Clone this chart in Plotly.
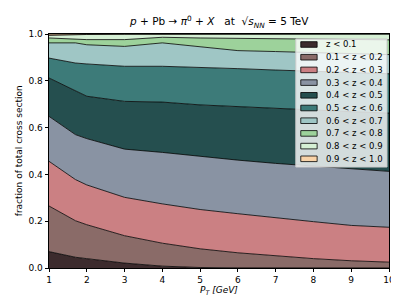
import plotly.graph_objects as go

# transverse momentum grid [GeV]
pt = [1, 1.7, 2, 3, 4, 5, 6, 7, 8, 9, 10]

labels = ["z < 0.1", "0.1 < z < 0.2", "0.2 < z < 0.3", "0.3 < z < 0.4", "0.4 < z < 0.5",
          "0.5 < z < 0.6", "0.6 < z < 0.7", "0.7 < z < 0.8", "0.8 < z < 0.9", "0.9 < z < 1.0"]

z00_01 = [0.070, 0.046, 0.040, 0.021, 0.008, 0.002, 0.0005, 0.0002, 0.0001, 0.0001, 0.0001]
z01_02 = [0.195, 0.156, 0.145, 0.117, 0.098, 0.080, 0.0645, 0.0508, 0.0399, 0.0309, 0.0249]
z02_03 = [0.191, 0.176, 0.170, 0.164, 0.168, 0.168, 0.167, 0.163, 0.158, 0.151, 0.149]
z03_04 = [0.192, 0.192, 0.198, 0.206, 0.220, 0.227, 0.229, 0.233, 0.237, 0.241, 0.239]
z04_05 = [0.164, 0.185, 0.181, 0.204, 0.215, 0.220, 0.228, 0.234, 0.239, 0.245, 0.249]
z05_06 = [0.085, 0.121, 0.138, 0.150, 0.153, 0.161, 0.163, 0.165, 0.166, 0.167, 0.168]
z06_07 = [0.065, 0.086, 0.082, 0.085, 0.100, 0.088, 0.077, 0.079, 0.081, 0.081, 0.082]
z07_08 = [0.021, 0.018, 0.022, 0.029, 0.024, 0.037, 0.052, 0.055, 0.058, 0.061, 0.063]
z08_09 = [0.011, 0.017, 0.022, 0.023, 0.0135, 0.0167, 0.0188, 0.0199, 0.0209, 0.0229, 0.0249]
z09_10 = [0.006, 0.003, 0.002, 0.001, 0.0005, 0.0003, 0.0002, 0.0001, 0.0001, 0.0001, 0.0001]

series = [z00_01, z01_02, z02_03, z03_04, z04_05, z05_06, z06_07, z07_08, z08_09, z09_10]

colors = ["#3c2b2d", "#8a6b68", "#cb8083", "#8993a3", "#254f4f",
          "#3d7b79", "#9fc6c5", "#9dd29b", "#d6f0d5", "#f8d3a8"]

xticks = [1, 2, 3, 4, 5, 6, 7, 8, 9, 10]
yticks = [0.0, 0.2, 0.4, 0.6, 0.8, 1.0]
yticklabels = ["0.0", "0.2", "0.4", "0.6", "0.8", "1.0"]

FONT = "DejaVu Sans"
W, H = 399, 299
L, R, T, B = 41, 15, 26, 39
PW, PH = W - L - R, H - T - B

fig = go.Figure()
for name, vals, col in zip(labels, series, colors):
    fig.add_trace(go.Scatter(x=pt, y=vals, name=name, stackgroup="one", mode="lines",
                             line=dict(color="black", width=0.8), fillcolor=col,
                             showlegend=False, hoverinfo="skip"))

# manual legend (matplotlib-like compact layout)
def px(xp):
    return (xp - L) / PW

def py(yp):
    return (T + PH - yp) / PH

shapes = []
annotations = []
lx0, lx1, ly0, ly1 = 290, 382, 31, 159
shapes.append(dict(type="rect", xref="paper", yref="paper", x0=px(lx0), x1=px(lx1),
                   y0=py(ly1), y1=py(ly0), fillcolor="rgba(255,255,255,0.8)",
                   line=dict(color="#cccccc", width=1), layer="above"))
step = 12.7
for i, (name, col) in enumerate(zip(labels, colors)):
    yc = 36.5 + i * step
    shapes.append(dict(type="rect", xref="paper", yref="paper", x0=px(295), x1=px(311.5),
                       y0=py(yc + 2.8), y1=py(yc - 2.8), fillcolor=col,
                       line=dict(color="black", width=0.8), layer="above"))
    annotations.append(dict(x=px(318), y=py(yc), xref="paper", yref="paper", text=name,
                            showarrow=False, xanchor="left", yanchor="middle",
                            font=dict(family=FONT, size=8.5, color="black")))

annotations.append(dict(x=0.5, y=py(14), xref="paper", yref="paper",
                        text="<i>p</i> + Pb → <i>π</i><sup>0</sup> + <i>X</i>   at  √<i>s</i><sub><i>NN</i></sub> = 5 TeV",
                        showarrow=False, xanchor="center", yanchor="middle",
                        font=dict(family=FONT, size=10.5, color="black")))
annotations.append(dict(x=0.5, y=py(282), xref="paper", yref="paper",
                        text="<i>P<sub>T</sub> [GeV]</i>",
                        showarrow=False, xanchor="center", yanchor="middle",
                        font=dict(family=FONT, size=9, color="black")))
annotations.append(dict(x=px(11), y=0.5, xref="paper", yref="paper",
                        text="fraction of total cross section", textangle=-90,
                        showarrow=False, xanchor="center", yanchor="middle",
                        font=dict(family=FONT, size=9, color="black")))

fig.update_layout(
    width=W, height=H,
    margin=dict(l=L, r=R, t=T, b=B, pad=0),
    paper_bgcolor="white", plot_bgcolor="white",
    font=dict(family=FONT, size=9, color="black"),
    showlegend=False,
    shapes=shapes, annotations=annotations,
    xaxis=dict(range=[1, 10], tickvals=xticks, ticks="outside", ticklen=3.5, tickwidth=0.8,
               tickcolor="black", showline=True, linecolor="black", linewidth=0.8,
               mirror=True, showgrid=False, zeroline=False,
               tickfont=dict(family=FONT, size=9, color="black")),
    yaxis=dict(range=[0, 1], tickvals=yticks, ticktext=yticklabels, ticks="outside",
               ticklen=3.5, tickwidth=0.8, tickcolor="black", showline=True,
               linecolor="black", linewidth=0.8, mirror=True, showgrid=False,
               zeroline=False, tickfont=dict(family=FONT, size=9, color="black")),
)

fig.write_html("out.html")
